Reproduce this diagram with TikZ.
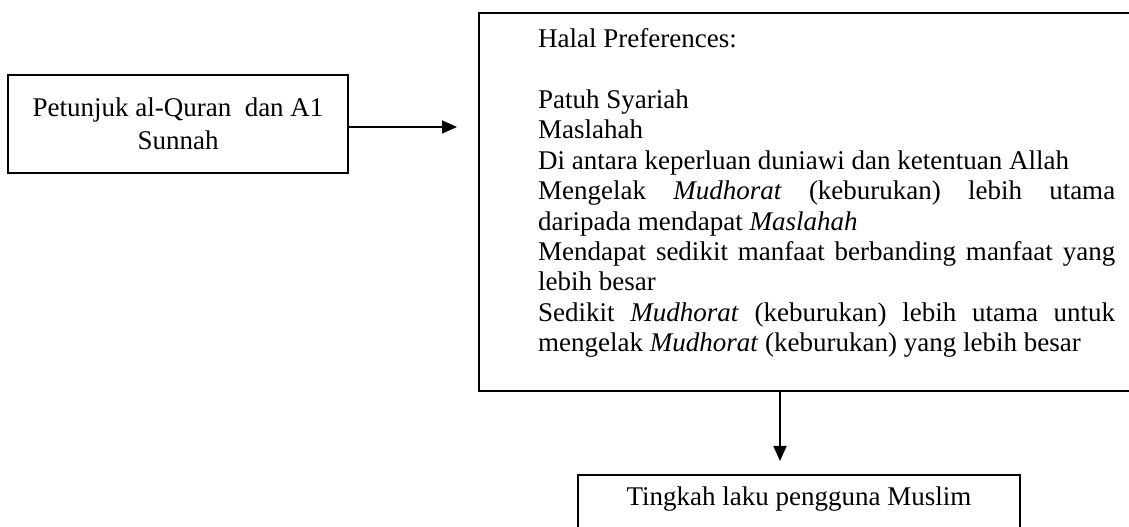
\documentclass[tikz,border=0pt]{standalone}
\usepackage{fontspec}
\setmainfont{Liberation Serif}
\usetikzlibrary{arrows.meta,calc}
\tikzset{
         box/.style={draw,line width=1.6pt,inner sep=0pt},
         arr/.style={line width=1.6pt,-{Triangle[length=15pt,width=13pt]}}
        }
\newcommand{\jline}[1]{\makebox[577pt][s]{#1}}

\begin{document}
\begin{tikzpicture}[x=1pt,y=1pt,font=\fontsize{27}{30.4}\selectfont]
\useasboundingbox[fill=white](0,0)rectangle(1129,527);
%left box
\node[box,minimum width=340pt,minimum height=98pt,align=center]
(petunjuk)at(178,403){Petunjuk al-Quran~ dan A1\\[3pt]Sunnah};
%preferences box
\node[box,minimum width=652pt,minimum height=378pt](prefs)at(805,325){};
\node[anchor=north west,align=left,inner sep=0pt](preftext)at(538,498.5){%
Halal Preferences:\\[30.4pt]
Patuh Syariah\\
Maslahah\\
Di antara keperluan duniawi dan ketentuan Allah\\
\jline{Mengelak \textit{Mudhorat} (keburukan) lebih utama}\\
daripada mendapat \textit{Maslahah}\\
\jline{Mendapat sedikit manfaat berbanding manfaat yang}\\
lebih besar\\
\jline{Sedikit \textit{Mudhorat} (keburukan) lebih utama untuk}\\
mengelak \textit{Mudhorat} (keburukan) yang lebih besar};
%bottom box
\node[box,anchor=north,minimum width=442pt,text height=31pt,text depth=35pt]
(muslim)at(799,53){Tingkah laku pengguna Muslim};
%arrows
\coordinate (tipA) at (457,400);
\coordinate (tipB) at (780,66);
\draw[arr](petunjuk.east |- tipA)--(tipA);
\draw[arr](prefs.south -| tipB)--(tipB);
\end{tikzpicture}
\end{document}
